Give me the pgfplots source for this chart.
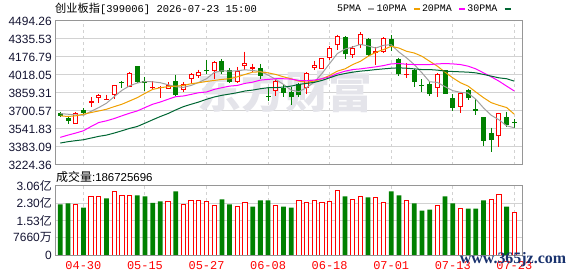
\documentclass[border=0pt]{standalone}
\usepackage{pgfplots}
\pgfplotsset{compat=1.18}
\usepackage{pgfplotstable}
\usepackage{fontspec}
\setmainfont{Liberation Sans}
\newfontfamily\cjk{Noto Sans CJK SC}
\newfontfamily\mono{Liberation Mono}
\newfontfamily\serifb{Liberation Serif}
\definecolor{upred}{RGB}{255,0,0}
\definecolor{dnGreen}{RGB}{0,128,0}
\definecolor{maA}{RGB}{160,160,160}
\definecolor{maB}{RGB}{240,160,0}
\definecolor{maC}{RGB}{255,0,255}
\definecolor{maD}{RGB}{0,102,51}
\definecolor{lbl}{RGB}{20,20,50}
\definecolor{gridc}{RGB}{210,210,210}
\definecolor{framec}{RGB}{150,150,150}
\definecolor{wm}{RGB}{228,228,234}
\definecolor{site}{RGB}{25,50,110}

% up (red, hollow) candles: index, high, low, body bottom, body top
\pgfplotstableread{
x hi lo bl bh
2 3693 3588 3590 3681
4 3821 3739 3774 3789
5 3850 3774 3815 3839
6 3844 3800 3800 3803
7 3932 3809 3839 3932
9 4046 3914 3914 4037
12 3964 3891 3903 3914
13 3920 3815 3906 3914
14 3952 3891 3897 3926
16 3955 3871 3885 3938
17 4037 3935 3985 4023
18 4066 3990 4008 4046
20 4142 3985 4052 4131
23 4090 3950 3958 4049
24 4224 4066 4096 4128
25 4119 4046 4075 4090
28 3979 3833 3880 3967
32 4046 3847 3906 4037
33 4145 4061 4078 4107
34 4169 4075 4075 4169
35 4271 4150 4166 4259
36 4373 4236 4280 4364
38 4271 4172 4192 4256
39 4394 4256 4285 4382
41 4265 4110 4215 4230
42 4353 4215 4224 4347
45 4125 3990 4017 4026
49 4037 3827 3906 4023
52 3856 3687 3739 3856
57 3687 3380 3476 3687
}\upc

% down (green, filled) candles
\pgfplotstableread{
x hi lo bl bh
0 3690 3649 3657 3681
1 3649 3590 3611 3637
3 3725 3675 3681 3710
8 3964 3900 3947 3952
10 4093 3950 3955 4093
11 4002 3876 3947 3961
15 4022 3833 3841 3967
19 4154 4028 4049 4055
21 4160 4023 4046 4142
22 4081 3950 3955 4063
26 4116 3979 4008 4081
27 3906 3786 3824 3830
29 3929 3827 3862 3900
30 3909 3751 3821 3864
31 3944 3827 3839 3935
37 4359 4163 4201 4350
40 4341 4189 4198 4332
43 4370 4227 4271 4335
44 4172 4008 4023 4160
46 4072 3914 3955 4058
47 3979 3868 3923 3932
48 3964 3833 3850 3935
50 4058 3850 3850 4058
51 3847 3701 3728 3812
53 3897 3800 3812 3882
54 3804 3666 3704 3716
55 3646 3395 3439 3646
56 3555 3342 3444 3506
58 3696 3561 3576 3652
59 3628 3549 3593 3599
}\dnc

\pgfplotstableread{
x g o m d
0 3678 3658 3468 3418
1 3672 3652 3488 3430
2 3666 3658 3506 3439
3 3663 3672 3526 3447
4 3698 3687 3564 3462
5 3731 3701 3599 3477
6 3769 3716 3614 3488
7 3827 3739 3634 3506
8 3882 3760 3658 3526
9 3923 3789 3681 3547
10 3947 3818 3701 3564
11 3961 3856 3731 3593
12 3958 3891 3760 3623
13 3950 3906 3780 3652
14 3932 3915 3804 3678
15 3915 3920 3827 3710
16 3909 3926 3833 3739
17 3926 3941 3847 3760
18 3953 3950 3862 3780
19 3985 3961 3868 3804
20 4040 3970 3891 3824
21 4055 3979 3906 3839
22 4052 3985 3920 3850
23 4055 4002 3926 3862
24 4064 4023 3944 3877
25 4058 4043 3955 3885
26 4049 4046 3973 3897
27 4017 4037 3979 3906
28 3979 4023 3985 3906
29 3935 4002 3985 3912
30 3885 3985 3982 3920
31 3871 3964 3970 3935
32 3906 3955 3967 3944
33 3955 3964 3973 3953
34 4031 3985 3985 3970
35 4119 4014 4002 3993
36 4207 4052 4031 4017
37 4247 4072 4052 4031
38 4265 4110 4066 4043
39 4288 4139 4072 4052
40 4274 4183 4081 4058
41 4256 4218 4090 4066
42 4280 4242 4101 4072
43 4285 4271 4116 4078
44 4221 4256 4119 4081
45 4169 4227 4113 4078
46 4110 4212 4110 4072
47 4037 4183 4110 4066
48 3958 4139 4110 4066
49 3953 4096 4116 4061
50 3915 4043 4119 4052
51 3880 3993 4116 4049
52 3865 3950 4110 4046
53 3859 3920 4096 4043
54 3804 3868 4072 4037
55 3728 3818 4037 4023
56 3663 3774 4002 4008
57 3623 3751 3964 3993
58 3570 3731 3920 3985
59 3553 3672 3877 3964
}\mas

\pgfplotstableread{
x v
2 22276
4 25864
5 25864
7 28106
8 26462
9 26462
14 23621
16 22276
17 24070
18 24070
19 23621
20 21827
23 21379
24 23173
28 21827
31 24070
32 23173
33 24070
34 23173
35 23771
36 28555
38 24518
39 25864
41 25415
42 23173
45 24070
49 21827
52 20482
56 24518
57 26910
59 18673
}\volred

\pgfplotstableread{
x v
0 22425
1 22874
3 21080
6 25116
10 26462
11 26013
12 23173
13 23771
15 28256
21 24668
22 22425
25 21528
26 24219
27 24219
29 21528
30 21080
37 26013
40 25565
43 28256
44 26462
46 22874
47 19734
48 20183
50 26013
51 22874
53 20631
54 20631
55 24219
58 21528
}\volgreen

\begin{document}
\begin{tikzpicture}
\useasboundingbox (0,0) rectangle (578bp,276bp);

\node[anchor=west, inner sep=0pt] at (55bp,267bp)
  {{\cjk\fontsize{11.25}{12}\selectfont 创业板指}{\mono\fontsize{10.5}{12}\selectfont[399006] 2026-07-23 15:00}};

\begin{axis}[
  at={(55bp,111bp)}, anchor=south west, scale only axis,
  width=467bp, height=144bp,
  xmin=-0.69, xmax=60, ymin=3224.36, ymax=4494.26,
  xtick={3,11,19,27,35,43,51,59}, xticklabels={},
  ytick={3224.36,3383.09,3541.83,3700.57,3859.31,4018.05,4176.79,4335.53,4494.26},
  yticklabels={3224.36,3383.09,3541.83,3700.57,3859.31,4018.05,4176.79,4335.53,4494.26},
  xmajorgrids, ymajorgrids,
  x grid style={draw=gridc, dash pattern=on 3bp off 3bp, line width=1bp},
  y grid style={draw=gridc, line width=1bp},
  axis line style={draw=framec, line width=1bp},
  tick style={draw=none},
  yticklabel style={font=\fontsize{12}{12}\selectfont, text=lbl, inner sep=0pt, anchor=east},
  yticklabel shift=3bp,
  legend style={at={(1,1)}, anchor=east, xshift=-10bp, yshift=12bp, draw=none, fill=none,
    font=\mono\fontsize{10}{10}\selectfont, legend columns=4, inner sep=0pt,
    nodes={inner sep=1bp},
    /tikz/every even column/.append style={column sep=0bp},
    /tikz/every odd column/.append style={column sep=5bp}},
  legend plot pos=right,
  legend image code/.code={\draw[line width=2.5bp] (0bp,0bp) -- (6bp,0bp);},
]
\node[text=wm, font=\cjk\bfseries\fontsize{44}{44}\selectfont] at (axis cs:29.2,3874) {东方财富};

% wicks
\addplot[forget plot, draw=none, mark=none,
  error bars/.cd, y dir=minus, y explicit, error mark=none,
  error bar style={line width=1bp, draw=upred}]
  table[x=x, y=hi, y error minus expr=\thisrow{hi}-\thisrow{lo}] {\upc};
\addplot[forget plot, draw=none, mark=none,
  error bars/.cd, y dir=minus, y explicit, error mark=none,
  error bar style={line width=1bp, draw=dnGreen}]
  table[x=x, y=hi, y error minus expr=\thisrow{hi}-\thisrow{lo}] {\dnc};
% red hollow bodies
\addplot[forget plot, draw=none, mark=none,
  error bars/.cd, y dir=plus, y explicit, error mark=none,
  error bar style={line width=5bp, draw=upred}]
  table[x=x, y=bl, y error plus expr={max(\thisrow{bh}-\thisrow{bl},9)}] {\upc};
\addplot[forget plot, draw=none, mark=none,
  error bars/.cd, y dir=plus, y explicit, error mark=none,
  error bar style={line width=3bp, draw=white}]
  table[x=x, y expr=\thisrow{bl}+8.8, y error plus expr={max(\thisrow{bh}-\thisrow{bl}-17.6,0)}] {\upc};
% green filled bodies
\addplot[forget plot, draw=none, mark=none,
  error bars/.cd, y dir=plus, y explicit, error mark=none,
  error bar style={line width=5bp, draw=dnGreen}]
  table[x=x, y=bl, y error plus expr={max(\thisrow{bh}-\thisrow{bl},9)}] {\dnc};

\addplot[maA, line width=1bp] table[x=x, y=g] {\mas};
\addlegendentry{5PMA}
\addplot[maB, line width=1bp] table[x=x, y=o] {\mas};
\addlegendentry{10PMA}
\addplot[maC, line width=1bp] table[x=x, y=m] {\mas};
\addlegendentry{20PMA}
\addplot[maD, line width=1bp] table[x=x, y=d] {\mas};
\addlegendentry{30PMA}
\end{axis}

\node[anchor=west, inner sep=0pt] at (56bp,99bp)
  {{\cjk\fontsize{12}{12}\selectfont 成交量}{\fontsize{11.5}{12}\selectfont :186725696}};

\begin{axis}[
  at={(55bp,21bp)}, anchor=south west, scale only axis,
  width=467bp, height=69bp,
  xmin=-0.69, xmax=60, ymin=0, ymax=30640,
  xtick={3,11,19,27,35,43,51,59},
  xticklabels={04-30,05-15,05-27,06-08,06-18,07-01,07-13,07-23},
  xticklabel style={font=\mono\fontsize{12}{12}\selectfont, text=upred, inner sep=0pt, anchor=north},
  xticklabel shift=6bp,
  ytick={0,7660,15320,22980,30640},
  yticklabels={0,7660{\cjk 万},1.53{\cjk 亿},2.30{\cjk 亿},3.06{\cjk 亿}},
  scaled y ticks=false,
  xmajorgrids, ymajorgrids,
  x grid style={draw=gridc, dash pattern=on 3bp off 3bp, line width=1bp},
  y grid style={draw=gridc, line width=1bp},
  axis line style={draw=framec, line width=1bp},
  tick style={draw=none},
  yticklabel style={font=\fontsize{12}{12}\selectfont, text=lbl, inner sep=0pt, anchor=east},
  yticklabel shift=3bp,
]
\addplot[ybar, bar width=0.56, bar shift=0pt, draw=upred, fill=white, line width=1bp] table[x=x, y=v] {\volred};
\addplot[ybar, bar width=0.62, bar shift=0pt, draw=none, fill=dnGreen] table[x=x, y=v] {\volgreen};
\end{axis}

\node[text=site, font=\serifb\bfseries\fontsize{16}{16}\selectfont, inner sep=0pt] at (513bp,16bp) {www.365jz.com};
\end{tikzpicture}
\end{document}
